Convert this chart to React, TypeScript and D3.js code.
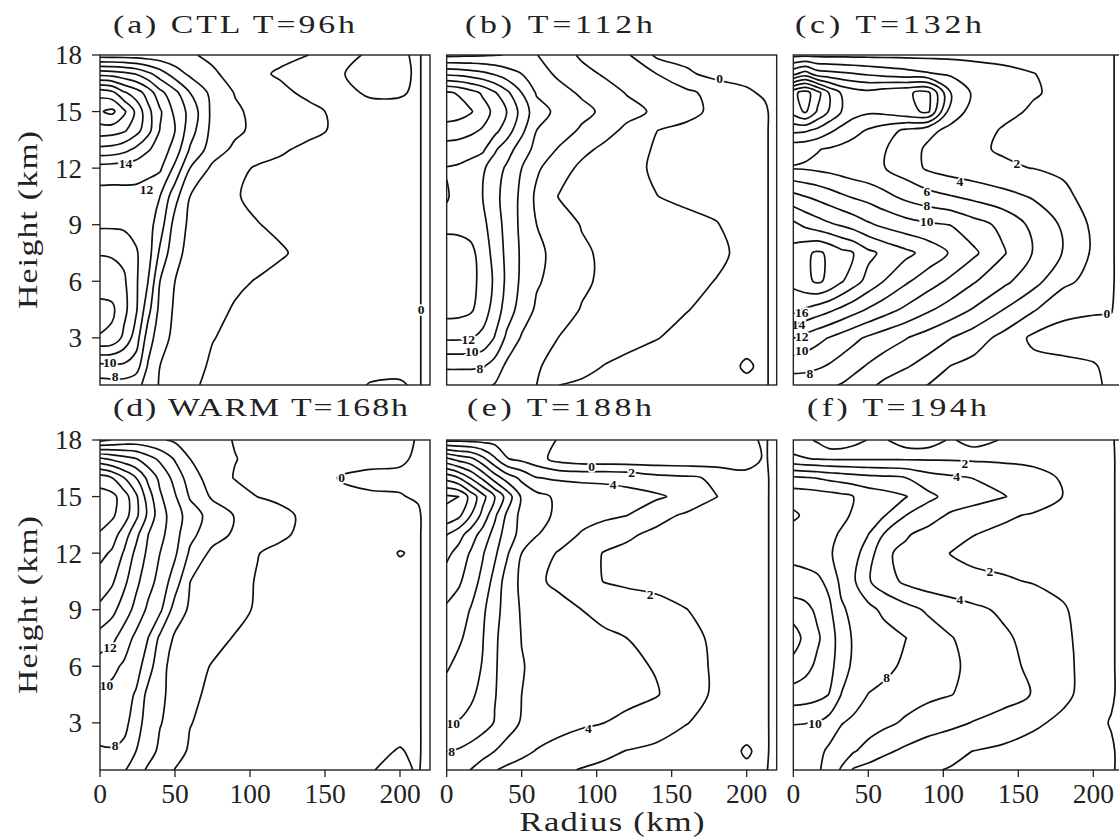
import React from "react";
import * as d3 from "d3";

// ---------- data ----------
const RADII = [0, 8, 16, 24, 32, 40, 50, 60, 75, 90, 105, 120, 140, 160, 180, 200, 212, 220];
const HEIGHTS = [18, 17, 16, 15, 14, 13, 12, 10.5, 9, 7.5, 6, 4.5, 3, 1.5, 0.5];
const LEVELS = [0, 2, 4, 6, 8, 10, 12, 14, 16, 18, 20, 22, 24];
const X_TICKS = [0, 50, 100, 150, 200];
const Y_TICKS = [3, 6, 9, 12, 15, 18];

const GRID_A = [
  [5.0, 5.0, 5.0, 4.9, 4.8, 4.7, 4.5, 4.2, 3.6, 3.2, 2.8, 2.4, 1.98, 0.5, -0.2, -0.3, 0.3, -1],
  [13.3, 13.1, 12.6, 11.9, 10.5, 9.0, 7.0, 5.6, 4.3, 3.3, 2.3, 1.8, 1.5, 0.1, -0.5, -0.5, 0.3, -1],
  [21.3, 20.6, 18.3, 17.0, 15.2, 12.6, 10.6, 8.0, 5.4, 3.9, 3.0, 2.4, 1.6, 0.6, -0.3, -0.2, 0.3, -1],
  [23.8, 24.5, 22.4, 19.6, 16.6, 14.3, 11.5, 9.4, 5.5, 4.3, 3.5, 2.9, 2.4, 1.6, 0.8, 0.6, 0.3, -1],
  [21.1, 20.9, 20.3, 18.8, 16.7, 13.9, 12.0, 8.9, 5.4, 4.4, 3.5, 3.0, 2.5, 1.6, 1.0, 0.7, 0.3, -1],
  [17.5, 17.3, 16.7, 15.6, 14.2, 13.2, 11.2, 7.8, 5.0, 3.6, 2.9, 2.3, 1.5, 1.2, 1.0, 0.7, 0.3, -1],
  [13.1, 13.0, 12.9, 12.8, 12.6, 12.3, 9.5, 6.0, 3.6, 2.5, 1.8, 1.5, 1.3, 1.2, 1.0, 0.7, 0.3, -1],
  [11.3, 11.3, 11.4, 11.4, 11.0, 10.0, 6.7, 4.0, 3.0, 2.1, 1.7, 1.5, 1.3, 1.2, 1.0, 0.7, 0.3, -1],
  [11.7, 11.7, 11.6, 11.4, 10.8, 9.0, 5.2, 3.6, 3.0, 2.4, 2.05, 1.75, 1.3, 1.2, 1.0, 0.7, 0.3, -1],
  [13.9, 13.8, 13.5, 12.2, 10.9, 7.6, 4.5, 3.5, 3.0, 2.8, 2.6, 2.15, 1.6, 1.3, 1.1, 0.8, 0.3, -1],
  [15.0, 14.9, 14.3, 12.3, 10.0, 6.0, 4.0, 3.4, 2.8, 2.3, 1.9, 1.6, 1.4, 1.2, 1.1, 0.8, 0.3, -1],
  [16.6, 16.4, 14.6, 12.3, 8.7, 5.4, 3.7, 3.1, 2.5, 1.85, 1.6, 1.4, 1.3, 1.2, 1.1, 0.8, 0.3, -1],
  [15.9, 15.5, 13.5, 11.0, 7.0, 4.8, 3.5, 2.9, 2.05, 1.7, 1.5, 1.3, 1.2, 1.1, 1.0, 0.7, 0.3, -1],
  [9.4, 9.5, 9.6, 9.0, 5.8, 4.0, 3.2, 2.5, 1.8, 1.5, 1.4, 1.3, 1.2, 1.1, 0.6, 0.5, 0.3, -1],
  [7.2, 7.3, 7.2, 6.6, 5.3, 3.8, 3.0, 2.3, 1.6, 1.4, 1.3, 1.2, 1.1, 0.8, -0.1, -0.2, 0.3, -1],
];

const GRID_B = [
  [5.5, 5.6, 5.7, 5.8, 5.9, 6.05, 6.3, 6.05, 4.9, 3.7, 3.0, 2.3, -0.4, -0.6, -0.7, -0.7, -0.8, -1],
  [11.6, 11.4, 11.0, 10.5, 9.8, 8.9, 8.0, 6.9, 5.6, 4.6, 3.8, 3.0, 2.0, 0.3, -0.6, -0.7, -0.8, -1],
  [18.3, 17.8, 16.8, 15.7, 14.2, 12.5, 10.0, 7.8, 6.7, 5.7, 4.8, 3.9, 3.3, 2.4, 1.3, 0.3, -0.3, -1],
  [19.2, 18.9, 18.2, 16.9, 15.5, 14.0, 11.3, 8.8, 7.5, 6.6, 5.6, 4.6, 3.7, 2.6, 1.5, 0.8, 0.4, -1],
  [17.0, 16.8, 16.4, 15.8, 14.6, 13.0, 10.5, 8.0, 7.0, 5.7, 4.7, 3.6, 2.02, 1.5, 1.1, 0.7, 0.4, -1],
  [15.2, 15.1, 14.8, 14.4, 12.3, 10.9, 9.0, 7.4, 5.8, 4.5, 3.6, 2.8, 1.8, 1.4, 1.1, 0.7, 0.4, -1],
  [13.9, 13.7, 13.2, 12.3, 11.0, 9.7, 8.0, 6.3, 4.8, 3.6, 3.0, 2.4, 1.8, 1.4, 1.1, 0.7, 0.4, -1],
  [14.15, 13.4, 13.0, 12.0, 10.6, 9.2, 7.6, 5.6, 3.9, 3.3, 2.9, 2.6, 2.02, 1.7, 1.3, 0.8, 0.4, -1],
  [13.5, 13.4, 13.1, 12.4, 11.2, 9.2, 7.6, 6.0, 4.9, 3.9, 3.5, 3.1, 2.7, 2.4, 2.1, 1.0, 0.4, -1],
  [15.0, 15.0, 14.6, 13.0, 11.4, 9.5, 7.7, 6.4, 5.4, 4.3, 3.7, 3.3, 2.9, 2.6, 2.3, 1.6, 0.4, -1],
  [15.2, 15.1, 14.7, 13.3, 11.7, 9.6, 7.6, 6.2, 5.3, 4.3, 3.7, 3.3, 2.8, 2.4, 1.95, 1.2, 0.4, -1],
  [14.8, 14.7, 14.3, 13.0, 11.2, 9.1, 7.1, 5.7, 4.8, 3.9, 3.3, 2.9, 2.5, 2.05, 1.6, 1.0, 0.4, -1],
  [12.3, 12.3, 12.1, 11.5, 9.9, 7.6, 5.8, 5.0, 3.95, 3.3, 2.9, 2.5, 2.05, 1.6, 1.2, 0.7, 0.4, -1],
  [8.3, 8.3, 8.3, 8.2, 7.2, 5.6, 5.0, 4.2, 3.3, 2.6, 1.95, 1.6, 1.3, 1.1, 0.9, -0.25, 0.4, -1],
  [6.6, 6.6, 6.5, 6.3, 5.9, 5.3, 4.6, 4.0, 2.0, 1.7, 1.4, 1.2, 1.0, 0.8, 0.6, 0.4, 0.4, -1],
];

const GRID_C = [
  [1.5, 1.5, 1.5, 1.5, 1.5, 1.5, 1.5, 1.5, 1.5, 1.5, 1.5, 1.4, 1.3, 1.2, 1.0, 0.7, 0.3, -1],
  [7.5, 9.0, 7.0, 6.7, 6.4, 6.1, 5.7, 5.3, 4.8, 4.2, 3.7, 3.2, 2.6, 2.05, 1.4, 0.9, 0.3, -1],
  [17.5, 18.8, 16.8, 13.8, 11.8, 11.0, 10.6, 11.2, 11.8, 12.4, 6.0, 3.7, 2.8, 2.2, 1.5, 0.9, 0.3, -1],
  [16.8, 18.3, 15.8, 13.8, 12.0, 10.8, 10.3, 10.5, 11.5, 12.3, 4.8, 3.5, 2.6, 1.7, 1.3, 0.9, 0.3, -1],
  [12.5, 12.3, 11.5, 10.4, 9.4, 8.6, 7.8, 7.0, 5.6, 4.4, 3.6, 2.9, 1.8, 1.6, 1.4, 0.9, 0.3, -1],
  [8.6, 8.4, 8.1, 7.8, 7.5, 7.2, 6.8, 6.2, 4.8, 3.7, 3.0, 2.15, 1.9, 1.8, 1.6, 1.0, 0.3, -1],
  [7.9, 7.8, 7.6, 7.4, 7.1, 6.8, 6.5, 6.1, 5.0, 3.7, 3.1, 2.7, 2.15, 1.98, 1.7, 1.1, 0.3, -1],
  [12.6, 12.0, 11.5, 10.9, 10.3, 9.8, 9.3, 8.6, 7.5, 6.7, 6.1, 5.5, 4.7, 3.8, 2.4, 1.3, 0.3, -1],
  [16.5, 15.6, 14.9, 14.3, 13.8, 13.2, 12.3, 11.6, 10.8, 10.3, 9.95, 8.8, 7.5, 5.5, 3.7, 1.6, 0.3, -1],
  [18.8, 19.6, 20.3, 19.7, 18.6, 18.0, 16.5, 15.6, 14.5, 13.3, 11.8, 10.4, 8.2, 5.9, 3.9, 1.7, 0.3, -1],
  [18.5, 19.5, 20.3, 19.6, 18.2, 16.9, 15.3, 14.0, 12.3, 10.9, 9.6, 8.2, 6.5, 4.7, 2.5, 1.3, 0.3, -1],
  [16.6, 15.8, 15.1, 14.4, 13.6, 12.8, 11.8, 10.9, 9.6, 8.3, 7.1, 5.85, 4.0, 2.2, 0.4, 0.15, 0.1, -1],
  [12.05, 11.3, 10.6, 9.9, 9.2, 8.5, 7.7, 7.0, 6.1, 5.1, 4.05, 3.0, 1.4, -0.4, -0.6, -0.6, -0.7, -1],
  [8.8, 8.7, 8.3, 7.8, 7.2, 6.6, 5.8, 5.1, 4.2, 3.2, 1.95, 1.4, 1.0, 0.6, 0.35, 0.1, -0.3, -1],
  [6.8, 6.7, 6.5, 6.2, 5.9, 5.3, 4.5, 3.6, 2.6, 1.95, 1.4, 1.1, 0.8, 0.6, 0.4, 0.2, -0.2, -1],
];

const GRID_D = [
  [3.5, 4.05, 4.6, 4.8, 4.6, 4.2, 3.7, 3.2, 2.6, 1.9, 1.5, 1.3, 1.1, 0.9, 0.7, 0.4, -0.1, -1],
  [12.4, 11.6, 10.8, 10.1, 8.8, 7.6, 5.8, 4.0, 3.0, 2.05, 1.6, 1.3, 1.1, 0.7, 0.5, 0.3, -0.3, -1],
  [19.0, 18.0, 16.0, 14.0, 11.5, 9.5, 7.3, 5.0, 3.0, 1.9, 1.6, 1.4, 1.0, -0.1, -0.4, -0.4, -0.5, -1],
  [20.8, 20.6, 19.0, 16.4, 13.0, 10.3, 8.2, 5.8, 3.7, 2.8, 1.98, 1.7, 1.2, 0.4, 0.2, 0.1, -0.2, -1],
  [20.5, 20.3, 19.0, 16.5, 13.6, 10.8, 9.0, 7.0, 5.2, 3.9, 3.2, 2.4, 1.6, 1.2, 1.0, 0.7, 0.3, -1],
  [19.9, 19.0, 17.0, 14.6, 12.05, 10.6, 8.7, 6.5, 4.9, 3.7, 2.8, 2.3, 1.5, 1.2, 1.0, 0.7, 0.3, -1],
  [18.6, 17.7, 15.8, 13.5, 11.6, 10.0, 8.3, 5.7, 3.5, 2.6, 2.05, 1.6, 1.4, 1.2, 1.0, -0.1, 0.3, -1],
  [17.0, 16.3, 14.5, 12.5, 10.8, 9.3, 7.0, 4.02, 3.0, 2.5, 1.9, 1.6, 1.4, 1.2, 1.0, 0.7, 0.3, -1],
  [15.6, 14.6, 13.0, 11.4, 9.6, 8.4, 5.1, 3.7, 3.1, 2.5, 1.8, 1.6, 1.4, 1.2, 1.0, 0.7, 0.3, -1],
  [13.2, 12.5, 11.1, 9.5, 8.02, 5.6, 3.7, 3.1, 2.5, 1.9, 1.6, 1.4, 1.3, 1.2, 1.0, 0.7, 0.3, -1],
  [11.0, 10.5, 9.7, 8.8, 7.0, 4.6, 3.3, 2.6, 1.9, 1.6, 1.5, 1.4, 1.3, 1.2, 1.0, 0.7, 0.3, -1],
  [9.7, 9.4, 8.8, 7.8, 5.4, 4.3, 3.5, 2.3, 1.7, 1.5, 1.4, 1.3, 1.2, 1.1, 1.0, 0.7, 0.3, -1],
  [8.8, 8.6, 8.6, 7.0, 5.0, 4.1, 3.3, 2.05, 1.6, 1.5, 1.4, 1.3, 1.2, 1.1, 0.9, 0.6, 0.3, -1],
  [7.8, 7.9, 7.5, 6.0, 4.8, 3.6, 2.6, 1.8, 1.5, 1.4, 1.3, 1.2, 1.1, 0.9, 0.4, -0.1, 0.3, -1],
  [7.0, 6.8, 6.2, 4.9, 3.7, 2.8, 1.95, 1.7, 1.5, 1.4, 1.3, 1.2, 1.1, 0.8, 0.1, -0.5, 0.2, -1],
];

const GRID_E = [
  [1.5, 1.5, 1.4, 1.3, 1.2, 1.1, 0.9, 0.6, -0.1, -0.4, -0.5, -0.5, -0.4, -0.4, -0.5, -0.5, 0.3, -1],
  [10.4, 9.2, 8.5, 6.6, 4.3, 2.1, 1.5, 0.8, -0.8, -1.3, -1.4, -1.4, -1.4, -1.4, -1.3, -1.2, 0.3, -1],
  [17.3, 16.0, 13.8, 11.5, 9.0, 7.1, 5.5, 4.05, 3.7, 3.6, 3.6, 3.4, 2.6, 2.3, 1.7, 0.9, 0.5, -1],
  [22.3, 22.0, 19.3, 16.7, 14.0, 11.3, 7.7, 6.6, 5.6, 5.1, 4.8, 4.6, 4.3, 3.4, 2.02, 1.1, 0.5, -1],
  [21.5, 20.5, 18.0, 15.4, 12.4, 9.7, 7.4, 6.5, 5.7, 4.9, 4.4, 4.02, 2.6, 1.7, 1.3, 0.9, 0.5, -1],
  [18.1, 16.8, 15.1, 13.2, 11.3, 9.0, 7.4, 6.1, 5.1, 3.8, 3.0, 2.3, 1.6, 1.4, 1.2, 0.9, 0.5, -1],
  [16.5, 15.3, 13.8, 12.2, 10.4, 8.3, 6.0, 5.0, 3.8, 2.9, 1.9, 1.6, 1.4, 1.3, 1.2, 0.9, 0.5, -1],
  [15.0, 14.3, 13.0, 11.4, 9.3, 7.2, 5.6, 4.3, 3.6, 2.7, 1.95, 1.7, 1.5, 1.4, 1.2, 0.9, 0.5, -1],
  [13.7, 13.0, 11.9, 10.4, 8.7, 7.2, 5.8, 5.2, 4.6, 4.0, 3.5, 3.0, 2.6, 2.02, 1.5, 1.0, 0.5, -1],
  [13.0, 12.3, 11.4, 10.1, 8.3, 7.2, 5.95, 5.5, 5.0, 4.6, 4.3, 4.0, 3.3, 2.6, 1.6, 1.0, 0.5, -1],
  [12.2, 11.5, 10.7, 9.9, 8.2, 7.2, 6.1, 5.6, 5.1, 4.8, 4.5, 4.3, 3.9, 3.0, 1.6, 1.0, 0.5, -1],
  [11.3, 10.9, 10.3, 9.5, 8.1, 7.2, 6.0, 5.6, 5.2, 4.9, 4.7, 4.5, 4.1, 3.0, 1.6, 1.0, 0.5, -1],
  [10.05, 9.9, 9.5, 8.8, 7.9, 7.0, 5.8, 5.2, 4.7, 4.3, 4.0, 3.6, 2.9, 2.05, 1.4, 0.7, 0.5, -1],
  [8.05, 7.8, 7.3, 6.7, 6.0, 5.2, 4.5, 3.9, 3.3, 2.8, 2.4, 1.95, 1.6, 1.2, 0.9, -0.2, 0.5, -1],
  [7.0, 6.6, 5.95, 5.1, 4.1, 3.6, 3.2, 2.8, 2.3, 1.9, 1.6, 1.3, 1.0, 0.4, 0.2, 0.3, 0.3, -1],
];

const GRID_F = [
  [0.8, 0.5, -0.3, -1.5, -1.5, -0.8, 0.1, 0.3, -1.2, -1.2, 0.3, -1.0, 0.2, 0.5, 0.6, 0.5, 0.3, -1],
  [2.4, 2.1, 1.9, 1.8, 1.8, 1.8, 1.8, 1.8, 1.8, 1.8, 1.8, 1.7, 1.6, 1.5, 1.3, 1.0, 0.4, -1],
  [8.3, 8.1, 7.9, 7.5, 7.2, 6.9, 6.6, 6.4, 6.0, 4.8, 4.3, 3.95, 3.4, 2.7, 1.8, 1.2, 0.4, -1],
  [11.3, 11.2, 11.0, 10.8, 10.5, 10.0, 9.2, 8.8, 8.1, 6.5, 5.3, 4.8, 4.1, 3.2, 1.95, 1.2, 0.4, -1],
  [12.3, 11.7, 11.2, 10.8, 10.4, 9.8, 9.0, 8.2, 6.0, 4.8, 3.7, 3.1, 2.3, 1.8, 1.5, 1.1, 0.4, -1],
  [11.3, 11.1, 10.8, 10.4, 9.8, 9.0, 8.02, 6.0, 4.2, 3.4, 2.8, 2.05, 1.6, 1.5, 1.4, 1.1, 0.4, -1],
  [11.5, 11.3, 10.9, 10.2, 9.4, 8.6, 7.2, 4.3, 3.6, 2.8, 1.95, 1.5, 1.4, 1.5, 1.4, 1.1, 0.4, -1],
  [12.7, 12.6, 12.4, 11.5, 9.5, 8.3, 6.2, 5.0, 3.6, 3.0, 2.7, 2.5, 2.2, 1.9, 1.6, 1.1, 0.4, -1],
  [15.0, 14.6, 13.6, 12.4, 10.3, 9.5, 8.6, 7.6, 6.7, 5.7, 5.0, 4.4, 3.7, 3.0, 2.15, 1.2, 0.4, -1],
  [17.0, 15.4, 14.3, 13.0, 11.0, 9.8, 9.3, 8.8, 8.02, 7.0, 6.1, 5.3, 4.3, 3.4, 2.3, 1.3, 0.4, -1],
  [15.3, 14.6, 13.6, 12.6, 11.0, 9.6, 9.0, 8.6, 7.6, 7.0, 6.3, 5.6, 4.6, 3.6, 2.4, 1.3, 0.4, -1],
  [13.2, 13.0, 12.6, 11.95, 9.95, 9.0, 7.95, 7.5, 6.9, 6.4, 6.05, 5.5, 4.8, 3.9, 2.4, 1.2, 0.4, -1],
  [10.05, 10.03, 9.9, 9.2, 8.1, 7.6, 7.1, 6.5, 5.7, 5.0, 4.5, 3.9, 3.2, 2.3, 1.6, 0.9, -0.2, -1],
  [9.3, 9.1, 8.6, 7.6, 6.9, 6.2, 5.2, 4.4, 3.6, 2.9, 2.4, 1.98, 1.6, 1.3, 1.0, 0.7, 0.4, -1],
  [9.0, 8.8, 8.3, 7.2, 5.8, 3.8, 3.3, 2.9, 2.5, 2.15, 1.9, 1.7, 1.4, 1.2, 0.9, 0.6, 0.4, -1],
];

// contour labels: [text, radius km, height km]
const LABELS_A: [string, number, number][] = [["14", 17, 12.25], ["12", 31, 10.9], ["10", 6.5, 1.7], ["8", 10, 0.95], ["0", 214, 4.5]];
const LABELS_B: [string, number, number][] = [["0", 182, 16.76], ["12", 14.4, 2.95], ["10", 16.7, 2.3], ["8", 22.2, 1.38]];
const LABELS_C: [string, number, number][] = [["2", 149, 12.25], ["4", 111, 11.3], ["6", 89, 10.8], ["8", 89, 10.05], ["10", 89, 9.2], ["16", 5.6, 4.35], ["14", 3.5, 3.72], ["12", 5.6, 3.1], ["10", 5.6, 2.35], ["8", 11, 1.15], ["0", 209, 4.3]];
const LABELS_D: [string, number, number][] = [["0", 161, 16.02], ["12", 6.7, 7.0], ["10", 4.4, 4.98], ["8", 10, 1.8]];
const LABELS_E: [string, number, number][] = [["0", 96.7, 16.6], ["2", 123.3, 16.3], ["4", 111, 15.65], ["2", 135.6, 9.85], ["4", 94.4, 2.7], ["10", 4.4, 2.97], ["8", 3.3, 1.5]];
const LABELS_F: [string, number, number][] = [["2", 114.4, 16.76], ["4", 108.9, 16.1], ["2", 131, 11.05], ["4", 111, 9.55], ["8", 62.2, 5.4], ["10", 14.4, 2.97]];

const TITLES = ["(a) CTL T=96h", "(b) T=112h", "(c) T=132h", "(d) WARM T=168h", "(e) T=188h", "(f) T=194h"];

// ---------- layout ----------
const W = 1119;
const H = 840;
const PW = 330;
const PH = 330;
const FONT = "'Liberation Serif', 'Times New Roman', serif";
const TITLE_SX = 1.3;

type Label = [string, number, number];
interface PanelSpec {
  id: string;
  grid: number[][];
  labels: Label[];
  title: string;
  left: number;
  top: number;
  titleX: number;
  titleW: number;
  titleY: number;
  yAxis: boolean;
  xAxis: boolean;
}

const PANELS: PanelSpec[] = [
  { id: "a", grid: GRID_A, labels: LABELS_A, title: TITLES[0], left: 100, top: 55, titleX: 113, titleW: 242, titleY: 33, yAxis: true, xAxis: false },
  { id: "b", grid: GRID_B, labels: LABELS_B, title: TITLES[1], left: 446.67, top: 55, titleX: 465, titleW: 188, titleY: 33, yAxis: false, xAxis: false },
  { id: "c", grid: GRID_C, labels: LABELS_C, title: TITLES[2], left: 793.33, top: 55, titleX: 795, titleW: 187, titleY: 33, yAxis: false, xAxis: false },
  { id: "d", grid: GRID_D, labels: LABELS_D, title: TITLES[3], left: 100, top: 440, titleX: 113, titleW: 295, titleY: 416, yAxis: true, xAxis: true },
  { id: "e", grid: GRID_E, labels: LABELS_E, title: TITLES[4], left: 446.67, top: 440, titleX: 467, titleW: 185, titleY: 416, yAxis: false, xAxis: true },
  { id: "f", grid: GRID_F, labels: LABELS_F, title: TITLES[5], left: 793.33, top: 440, titleX: 807, titleW: 180, titleY: 416, yAxis: false, xAxis: true },
];

interface CLine {
  level: number;
  closed: boolean;
  pts: [number, number][];
}

function contourLines(grid: number[][]): CLine[] {
  const m = grid.length;
  const n = grid[0].length;
  const values = grid.flat();
  const gen = d3.contours().size([n, m]).thresholds(LEVELS);
  const out: CLine[] = [];
  const eps = 1e-9;
  const onB = (p: number[]) => p[0] <= eps || p[0] >= n - eps || p[1] <= eps || p[1] >= m - eps;
  for (const c of gen(values)) {
    for (const poly of c.coordinates) {
      for (const ring of poly) {
        const raw = ring.slice(0, -1) as [number, number][];
        const pts: [number, number][] = [];
        for (const p of raw) {
          const q = pts[pts.length - 1];
          if (!q || Math.abs(q[0] - p[0]) > 1e-6 || Math.abs(q[1] - p[1]) > 1e-6) pts.push([p[0], p[1]]);
        }
        const k = pts.findIndex(onB);
        if (k < 0) {
          if (pts.length > 2) out.push({ level: c.value, closed: true, pts });
          continue;
        }
        const rot = pts.slice(k).concat(pts.slice(0, k));
        let cur: [number, number][] = [];
        for (const p of rot) {
          if (onB(p)) {
            if (cur.length > 1) out.push({ level: c.value, closed: false, pts: cur });
            cur = [];
          } else cur.push(p);
        }
        if (cur.length > 1) out.push({ level: c.value, closed: false, pts: cur });
      }
    }
  }
  return out;
}

function Panel({ spec }: { spec: PanelSpec }) {
  const { left, top } = spec;
  const rScale = d3.scaleLinear().domain([0, 220]).range([left, left + PW]);
  const zScale = d3.scaleLinear().domain([0.5, 18]).range([top + PH, top]);
  const idxR = d3.scaleLinear().domain(RADII.map((_, i) => i + 0.5)).range(RADII);
  const idxZ = d3.scaleLinear().domain(HEIGHTS.map((_, i) => i + 0.5)).range(HEIGHTS);
  const lines = contourLines(spec.grid);
  const openGen = d3
    .line<[number, number]>()
    .x((p) => rScale(idxR(p[0])))
    .y((p) => zScale(idxZ(p[1])))
    .curve(d3.curveCatmullRom.alpha(0.5));
  const closedGen = d3
    .line<[number, number]>()
    .x((p) => rScale(idxR(p[0])))
    .y((p) => zScale(idxZ(p[1])))
    .curve(d3.curveCatmullRomClosed.alpha(0.5));
  const clipId = `clip-${spec.id}`;
  return (
    <g>
      <defs>
        <clipPath id={clipId}>
          <rect x={left} y={top} width={PW} height={PH} />
        </clipPath>
      </defs>
      <g clipPath={`url(#${clipId})`}>
        {lines.map((l, i) => (
          <path
            key={i}
            d={(l.closed ? closedGen(l.pts) : openGen(l.pts)) || ""}
            fill="none"
            stroke="#111"
            strokeWidth={1.7}
            strokeLinejoin="round"
          />
        ))}
        {spec.labels.map(([t, r, z], i) => (
          <text
            key={"l" + i}
            x={rScale(r)}
            y={zScale(z)}
            dy="0.36em"
            textAnchor="middle"
            fontFamily={FONT}
            fontWeight="bold"
            fontSize={13.5}
            fill="#111"
            stroke="#fff"
            strokeWidth={3.5}
            paintOrder="stroke"
          >
            {t}
          </text>
        ))}
      </g>
      <rect x={left} y={top} width={PW} height={PH} fill="none" stroke="#222" strokeWidth={1.4} />
      {spec.yAxis &&
        Y_TICKS.map((t) => (
          <g key={"y" + t}>
            <line x1={left - 8} x2={left} y1={zScale(t)} y2={zScale(t)} stroke="#222" strokeWidth={1.3} />
            <text x={left - 18} y={zScale(t)} dy="0.35em" textAnchor="end" fontFamily={FONT} fontSize={27} fill="#222">
              {t}
            </text>
          </g>
        ))}
      {spec.xAxis &&
        X_TICKS.map((t) => (
          <g key={"x" + t}>
            <line x1={rScale(t)} x2={rScale(t)} y1={top + PH} y2={top + PH + 7} stroke="#222" strokeWidth={1.3} />
            <text x={rScale(t)} y={top + PH + 33} textAnchor="middle" fontFamily={FONT} fontSize={27.5} fill="#222">
              {t}
            </text>
          </g>
        ))}
      <text
        transform={`translate(${spec.titleX},${spec.titleY}) scale(${TITLE_SX},1)`}
        fontFamily={FONT}
        fontSize={26}
        fill="#222"
        textLength={spec.titleW / TITLE_SX}
        lengthAdjust="spacing"
      >
        {spec.title}
      </text>
    </g>
  );
}

export default function App() {
  return (
    <svg
      width={W}
      height={H}
      viewBox={`0 0 ${W} ${H}`}
      style={{ position: "absolute", left: 0, top: 0, background: "#fff", display: "block" }}
    >
      <rect x={0} y={0} width={W} height={H} fill="#fff" />
      {PANELS.map((p) => (
        <Panel key={p.id} spec={p} />
      ))}
      {[220, 605].map((cy) => (
        <text
          key={cy}
          transform={`translate(37,${cy}) rotate(-90) scale(1.2,1)`}
          textAnchor="middle"
          fontFamily={FONT}
          fontSize={28}
          fill="#222"
          textLength={178 / 1.2}
          lengthAdjust="spacing"
        >
          Height (km)
        </text>
      ))}
      <text
        transform="translate(612,831) scale(1.28,1)"
        textAnchor="middle"
        fontFamily={FONT}
        fontSize={27}
        fill="#222"
        textLength={185 / 1.28}
        lengthAdjust="spacing"
      >
        Radius (km)
      </text>
    </svg>
  );
}
